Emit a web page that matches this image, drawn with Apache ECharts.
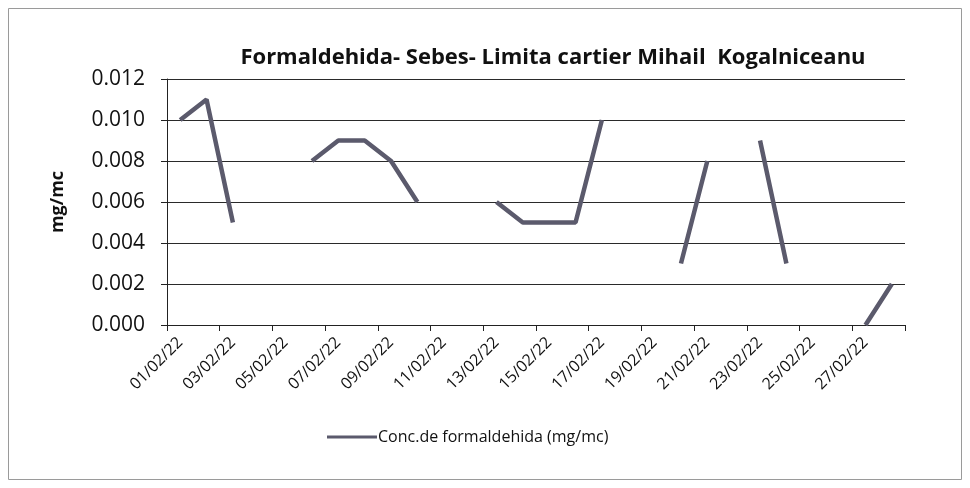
<!DOCTYPE html>
<html>
<head>
<meta charset="utf-8">
<script src="https://cdn.jsdelivr.net/npm/echarts@6/dist/echarts.min.js"></script>
<style>
  html, body { margin: 0; padding: 0; background: #fff; }
  #main { width: 970px; height: 488px; }
</style>
</head>
<body>
<div id="main"></div>
<script>
// zile februarie 2022
const days = [];
for (let d = 1; d <= 28; d++) {
  days.push((d < 10 ? "0" + d : "" + d) + "/02/22");
}
// concentratii (null = lipsa masuratoare)
const conc = [
  0.010, 0.011, 0.005, null, null, 0.008, 0.009,
  0.009, 0.008, 0.006, null, null, 0.006, 0.005,
  0.005, 0.005, 0.010, null, null, 0.003, 0.008,
  null, 0.009, 0.003, null, null, 0.000, 0.002
];
const yTicks = [0, 0.002, 0.004, 0.006, 0.008, 0.010, 0.012];

const font = "'Open Sans', sans-serif";
const myChart = echarts.init(document.getElementById("main"));

const option = {
  animation: false,
  textStyle: { fontFamily: font },
  title: {
    text: "Formaldehida- Sebes- Limita cartier Mihail  Kogalniceanu",
    left: 548,
    textAlign: "center",
    top: 42,
    textStyle: { fontSize: 22, fontWeight: "bold", color: "#111", fontFamily: font },
  },
  graphic: [
    {
      type: "rect",
      shape: { x: 8.5, y: 8.5, width: 953, height: 471 },
      style: { fill: "none", stroke: "#9a9a9a", lineWidth: 1 },
    },
  ],
  grid: { left: 167, right: 65, top: 79, bottom: 163 },
  legend: {
    bottom: 38,
    left: 322,
    itemWidth: 50,
    itemHeight: 3,
    itemGap: 4,
    icon: "rect",
    textStyle: { fontSize: 16, color: "#111", fontFamily: font, padding: [0, 0, 0, -4] },
    data: ["Conc.de formaldehida (mg/mc)"],
  },
  xAxis: {
    type: "category",
    data: days,
    boundaryGap: true,
    axisLine: { lineStyle: { color: "#222", width: 1 } },
    axisTick: { show: true, interval: 1, length: 6, lineStyle: { color: "#222" } },
    axisLabel: { interval: 1, rotate: 45, fontSize: 16, color: "#111", margin: 15 },
  },
  yAxis: {
    type: "value",
    min: yTicks[0],
    max: yTicks[yTicks.length - 1],
    interval: 0.002,
    name: "mg/mc",
    nameLocation: "middle",
    nameGap: 100,
    nameRotate: 90,
    nameTextStyle: { fontSize: 18, fontWeight: "bold", color: "#111" },
    axisLine: { show: true, lineStyle: { color: "#222" } },
    axisTick: { show: true, length: 6, lineStyle: { color: "#222" } },
    axisLabel: {
      fontSize: 21,
      color: "#111",
      margin: 22,
      formatter: (v) => v.toFixed(3),
    },
    splitLine: { lineStyle: { color: "#2a2a2a", width: 1.2 } },
  },
  series: [
    {
      name: "Conc.de formaldehida (mg/mc)",
      type: "line",
      data: conc,
      connectNulls: false,
      showSymbol: false,
      symbol: "none",
      lineStyle: { color: "#5b5a6c", width: 4.5 },
      itemStyle: { color: "#5b5a6c" },
    },
  ],
};
myChart.setOption(option);
</script>
</body>
</html>
